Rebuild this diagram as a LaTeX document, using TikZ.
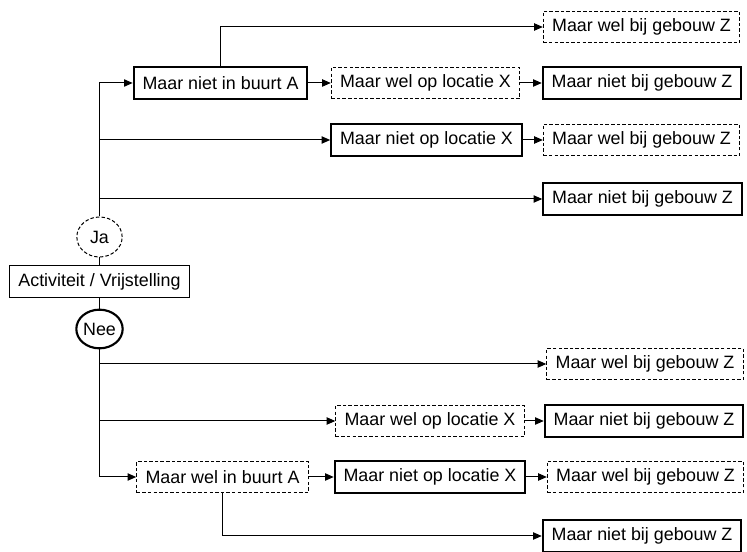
\documentclass[tikz,border=0pt]{standalone}
\usepackage{fontspec}
\setmainfont{Liberation Sans}
\usetikzlibrary{arrows.meta,shapes.geometric}
\tikzset{
  box/.style={rectangle, draw, line width=0.75pt, minimum height=23.5pt, inner xsep=6.6pt, inner ysep=0pt, font=\fontsize{13.4}{15}\selectfont, fill=white},
  solidbox/.style={box, line width=1.6pt},
  dashbox/.style={box, dash pattern=on 2.6pt off 1.6pt},
  oval/.style={ellipse, draw, minimum width=34pt, minimum height=30pt, inner sep=0pt, font=\fontsize{13.4}{15}\selectfont},
  conn/.style={line width=0.75pt},
  arr/.style={conn, -{Triangle[length=6.5pt,width=5.5pt]}},
}
\begin{document}
\begin{tikzpicture}[x=0.75pt,y=-0.75pt]
\useasboundingbox (0,0) rectangle (747,552);
% central column
\node[oval, dash pattern=on 2.6pt off 1.6pt, line width=0.75pt] (ja) at (99.5,237) {Ja};
\node[box, minimum width=132pt] (act) at (99.5,281.5) {Activiteit / Vrijstelling};
\node[oval, line width=1.6pt, minimum width=34pt, minimum height=29pt] (nee) at (99.5,329) {Nee};
% top part
\node[solidbox] (nietA) at (220.5,83) {Maar niet in buurt A};
\node[dashbox] (welX1) at (425.5,83) {Maar wel op locatie X};
\node[solidbox] (nietZ2) at (642,83) {Maar niet bij gebouw Z};
\node[dashbox] (welZ1) at (641.5,27) {Maar wel bij gebouw Z};
\node[solidbox] (nietX3) at (426.5,140) {Maar niet op locatie X};
\node[dashbox] (welZ3) at (641.5,140) {Maar wel bij gebouw Z};
\node[solidbox] (nietZ4) at (642.5,199) {Maar niet bij gebouw Z};
% bottom part
\node[dashbox] (welZb1) at (645,364) {Maar wel bij gebouw Z};
\node[dashbox] (welXb2) at (430,421) {Maar wel op locatie X};
\node[solidbox] (nietZb2) at (644,421) {Maar niet bij gebouw Z};
\node[dashbox] (welA) at (222.5,477) {Maar wel in buurt A};
\node[solidbox] (nietXb3) at (430,477) {Maar niet op locatie X};
\node[dashbox] (welZb3) at (645.5,477) {Maar wel bij gebouw Z};
\node[solidbox] (nietZb4) at (642,536) {Maar niet bij gebouw Z};
% connectors: central
\draw[conn] (ja.south) -- (act.north);
\draw[conn] (act.south) -- (nee.north);
% top connectors
\draw[arr] (ja.north) |- (nietA.west);
\draw[arr] (ja.north) |- (nietX3.west);
\draw[arr] (ja.north) |- (nietZ4.west);
\draw[arr] (nietA.north) |- (welZ1.west);
\draw[arr] (nietA.east) -- (welX1.west);
\draw[arr] (welX1.east) -- (nietZ2.west);
\draw[arr] (nietX3.east) -- (welZ3.west);
% bottom connectors
\draw[arr] (nee.south) |- (welZb1.west);
\draw[arr] (nee.south) |- (welXb2.west);
\draw[arr] (nee.south) |- (welA.west);
\draw[arr] (welXb2.east) -- (nietZb2.west);
\draw[arr] (welA.east) -- (nietXb3.west);
\draw[arr] (nietXb3.east) -- (welZb3.west);
\draw[arr] (welA.south) |- (nietZb4.west);
\end{tikzpicture}
\end{document}
